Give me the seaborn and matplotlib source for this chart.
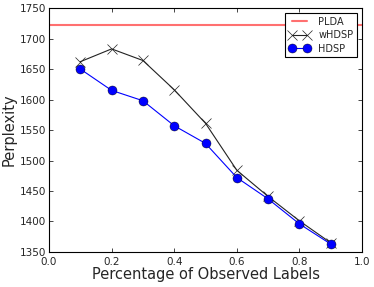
import numpy as np
import pandas as pd
import matplotlib
matplotlib.use("Agg")
import matplotlib.pyplot as plt
import seaborn as sns

# data
pct = [0.1, 0.2, 0.3, 0.4, 0.5, 0.6, 0.7, 0.8, 0.9]
whdsp = [1662, 1683, 1664, 1616, 1561, 1484, 1441, 1401, 1365]
hdsp = [1650, 1615, 1598, 1557, 1528, 1472, 1437, 1396, 1363]
plda = 1722

sns.set_style("white", {"xtick.direction": "in", "ytick.direction": "in",
                        "axes.edgecolor": "black"})
plt.rcParams['font.family'] = ['DejaVu Sans']

fig, ax = plt.subplots(figsize=(3.74, 2.87), dpi=100)
fig.subplots_adjust(left=0.131, right=0.968, top=0.972, bottom=0.122)

ax.axhline(plda, color="#ff7070", lw=1.5, label="PLDA")
sns.lineplot(x=pct, y=whdsp, ax=ax, color="#222222", lw=0.8, marker="x",
             markersize=7, markeredgecolor="#222222", markeredgewidth=0.5,
             label="wHDSP")
sns.lineplot(x=pct, y=hdsp, ax=ax, color="blue", lw=0.8, marker="o",
             markersize=6.5, markeredgecolor="black", markeredgewidth=0.3,
             label="HDSP")

ax.set_xlim(0, 1.0)
ax.set_ylim(1350, 1750)
ax.set_xticks(np.arange(0, 1.01, 0.2))
ax.set_yticks(np.arange(1350, 1751, 50))
ax.tick_params(axis="both", labelsize=7.5, length=3, width=0.6,
               top=True, right=True, bottom=True, left=True)
ax.tick_params(axis="x", pad=3.5)
ax.tick_params(axis="y", pad=2)
for s in ax.spines.values():
    s.set_linewidth(0.8)
ax.set_xlabel("Percentage of Observed Labels", fontsize=10.5, labelpad=0)
ax.set_ylabel("Perplexity", fontsize=10.5, labelpad=2)

leg = ax.legend(loc="upper right", fontsize=7, frameon=True, fancybox=False,
                edgecolor="black", framealpha=1, numpoints=2,
                handlelength=2.2, borderpad=0.4, labelspacing=0.35)
leg.get_frame().set_linewidth(0.8)

fig.savefig("out.png", dpi=100)
